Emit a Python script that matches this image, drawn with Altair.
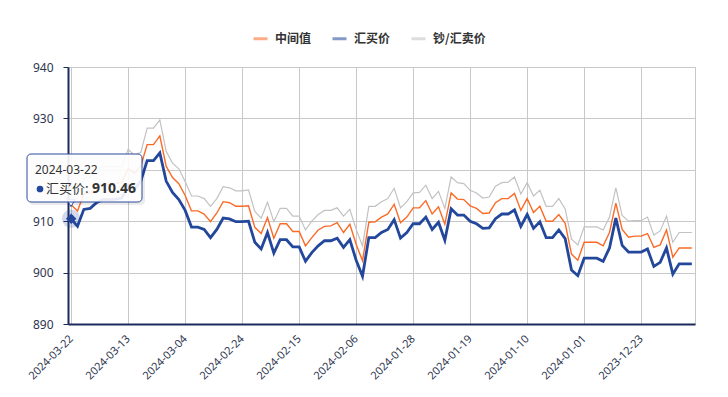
import altair as alt
import pandas as pd
from datetime import date, timedelta

# ---- data ----
series = ["中间值", "汇买价", "钞/汇卖价"]
colors = ["#fb6a26", "#22479b", "#c2c2c2"]
widths = [1.4, 2.8, 1.2]

start = date(2024, 3, 22)
dates = [(start - timedelta(days=i)).isoformat() for i in range(99)]
tick_labels = ["2024-03-22", "2024-03-13", "2024-03-04", "2024-02-24", "2024-02-15",
               "2024-02-06", "2024-01-28", "2024-01-19", "2024-01-10", "2024-01-01",
               "2023-12-23"]

buy = [910.46, 909.0, 912.3, 912.5, 913.6, 914.2, 914.2, 914.3, 914.5, 917.0,
       916.2, 917.8, 921.8, 921.8, 923.3, 917.8, 915.6, 914.2, 912.1, 908.85,
       908.85, 908.4, 906.8, 908.4, 910.6, 910.45, 909.9, 909.9, 910.0, 905.9,
       904.6, 907.8, 903.8, 906.4, 906.4, 905.0, 905.0, 902.2, 903.9, 905.2,
       906.2, 906.2, 906.7, 904.9, 906.4, 902.4, 899.3, 906.8, 906.8, 907.8,
       908.4, 910.3, 906.7, 907.8, 909.5, 909.5, 910.8, 908.4, 909.8, 906.3,
       912.4, 911.2, 911.2, 910.0, 909.5, 908.6, 908.7, 910.5, 911.4, 911.4,
       912.2, 909.0, 911.3, 908.6, 909.9, 906.8, 906.8, 908.3, 906.6, 900.5,
       899.4, 902.8, 902.8, 902.8, 902.2, 904.8, 910.6, 905.3, 904.0, 904.0,
       904.0, 904.6, 901.2, 902.0, 904.8, 899.7, 901.7, 901.7, 901.7]

mid = [913.2, 912.0, 915.3, 915.5, 916.6, 917.2, 917.2, 917.3, 917.5, 920.3,
       919.3, 920.8, 924.9, 924.9, 926.6, 920.7, 918.5, 917.3, 915.0, 912.0,
       912.0, 911.4, 909.9, 911.6, 913.8, 913.6, 912.9, 912.9, 913.0, 908.8,
       907.6, 910.7, 906.7, 909.5, 909.5, 908.0, 908.0, 905.2, 906.8, 908.3,
       909.0, 909.1, 909.7, 907.8, 909.4, 905.5, 902.3, 909.8, 909.9, 910.8,
       911.4, 913.3, 909.7, 910.8, 912.6, 912.6, 914.0, 911.4, 912.8, 909.4,
       915.5, 914.3, 914.2, 913.0, 912.5, 911.5, 911.6, 913.6, 914.4, 914.4,
       915.4, 912.1, 914.4, 911.7, 912.9, 910.0, 910.0, 911.3, 909.6, 903.6,
       902.4, 905.9, 905.9, 905.9, 905.2, 907.8, 913.5, 908.4, 906.9, 907.1,
       907.1, 907.6, 904.9, 905.4, 908.3, 903.0, 904.8, 904.8, 904.8]

sell = [916.3, 915.1, 918.3, 918.6, 919.8, 920.6, 920.6, 920.6, 920.6, 924.0,
        922.8, 923.4, 928.1, 928.1, 929.7, 923.6, 921.3, 920.2, 917.7, 914.9,
        914.9, 914.4, 912.9, 914.4, 916.7, 916.5, 915.9, 915.9, 916.1, 911.9,
        910.6, 913.7, 909.9, 912.5, 912.5, 911.0, 911.0, 908.3, 910.0, 911.3,
        912.1, 912.1, 912.6, 911.0, 912.3, 908.4, 905.2, 912.9, 912.9, 913.8,
        914.4, 916.4, 912.6, 913.8, 915.5, 915.6, 917.0, 914.4, 915.8, 912.5,
        918.6, 917.5, 917.3, 916.0, 915.5, 914.5, 914.7, 916.8, 917.5, 917.6,
        918.6, 915.3, 917.5, 914.9, 916.0, 912.9, 912.9, 914.4, 912.4, 906.5,
        905.4, 908.9, 908.9, 908.9, 908.3, 910.8, 916.5, 911.1, 910.0, 910.1,
        910.1, 910.8, 907.3, 908.1, 911.0, 905.9, 907.8, 907.8, 907.8]

y_ticks = [890, 900, 910, 920, 930, 940]

# ---- tables ----
wide = pd.DataFrame({"date": dates, series[0]: mid, series[1]: buy, series[2]: sell})
df = wide.melt(id_vars="date", var_name="series", value_name="value")

hover = pd.DataFrame({"date": [dates[0]], "value": [buy[0]],
                      "name": [series[1] + ":"], "label": [f"{buy[0]:.2f}"]})
box_df = pd.DataFrame({"k": [0]})

navy = "#1c2a5c"
xenc = alt.X("date:O", sort=dates,
             scale=alt.Scale(type="point", padding=0.5),
             axis=alt.Axis(values=tick_labels, title=None, labelAngle=-45,
                           labelAlign="right", labelBaseline="middle",
                           labelPadding=13, ticks=False, grid=True,
                           labelFont="Noto Sans", labelFontSize=11,
                           labelColor="#2d3550", domainColor=navy, domainWidth=2,
                           gridColor="#c8c8c8"))
yenc = alt.Y("value:Q", scale=alt.Scale(domain=[890, 940], nice=False, zero=False),
             axis=alt.Axis(values=y_ticks, title=None, grid=True, gridColor="#c8c8c8",
                           domainColor=navy, domainWidth=2, tickColor=navy, tickSize=5,
                           labelPadding=10, labelFont="Noto Sans", labelFontSize=12,
                           labelColor="#2d3550",
                           labelExpr="datum.value == 920 ? '' : datum.label"))

legend = alt.Legend(title=None, orient="none", legendX=184, legendY=-37,
                    direction="horizontal", symbolType="stroke",
                    symbolSize=196, symbolStrokeWidth=3,
                    symbolOpacity=0.55, labelFont="Noto Sans CJK SC",
                    labelFontSize=12, labelFontWeight="bold",
                    labelColor="#333333", columnPadding=14,
                    labelOffset=6)
color = alt.Color("series:N", scale=alt.Scale(domain=series, range=colors), legend=legend)

line_layers = []
for name, w in zip([series[2], series[0], series[1]], [widths[2], widths[0], widths[1]]):
    line_layers.append(
        alt.Chart(df).transform_filter(alt.datum.series == name)
        .mark_line(strokeWidth=w, strokeJoin="miter")
        .encode(x=xenc, y=yenc, color=color)
    )

halo = alt.Chart(hover).mark_circle(size=340, color="#22479b", opacity=0.2).encode(
    x=alt.X("date:O", sort=dates), y="value:Q")
diamond = alt.Chart(hover).mark_point(shape="diamond", filled=True, size=110,
                                      color="#22479b", opacity=1).encode(
    x=alt.X("date:O", sort=dates), y="value:Q")

shadow = alt.Chart(box_df).mark_rect(fill="black", opacity=0.08, cornerRadius=4).encode(
    x=alt.value(-39), x2=alt.value(77), y=alt.value(90), y2=alt.value(138))
pointer = alt.Chart(box_df).mark_point(shape="triangle-down", filled=True, fill="white",
                                       stroke="#2a4aa0", strokeWidth=1, size=70,
                                       opacity=1).encode(
    x=alt.value(3), y=alt.value(136))
box = alt.Chart(box_df).mark_rect(fill="white", fillOpacity=0.9, stroke="#2a4aa0",
                                  strokeWidth=1, cornerRadius=4).encode(
    x=alt.value(-41), x2=alt.value(74), y=alt.value(87), y2=alt.value(135))
t_date = alt.Chart(hover).mark_text(align="left", baseline="middle", font="Noto Sans",
                                    fontSize=12, color="#333333").encode(
    x=alt.value(-33), y=alt.value(103), text="date:N")
t_dot = alt.Chart(box_df).mark_circle(size=45, color="#22479b", opacity=1).encode(
    x=alt.value(-28), y=alt.value(122))
t_name = alt.Chart(hover).mark_text(align="left", baseline="middle",
                                    font="Noto Sans CJK SC", fontSize=13,
                                    color="#333333").encode(
    x=alt.value(-22), y=alt.value(122), text="name:N")
t_val = alt.Chart(hover).mark_text(align="left", baseline="middle", font="Noto Sans",
                                   fontSize=14, fontWeight="bold",
                                   color="#333333").encode(
    x=alt.value(24), y=alt.value(122), text="label:N")

chart = alt.layer(*line_layers, halo, diamond, shadow, pointer, box, t_date, t_dot,
                  t_name, t_val).properties(
    width=627, height=257,
    padding={"left": 60, "top": 59, "right": 20, "bottom": 63},
    autosize=alt.AutoSizeParams(type="none"),
).configure_view(stroke="#c8c8c8")

chart.save("out.html", embed_options={"renderer": "svg", "actions": False})
